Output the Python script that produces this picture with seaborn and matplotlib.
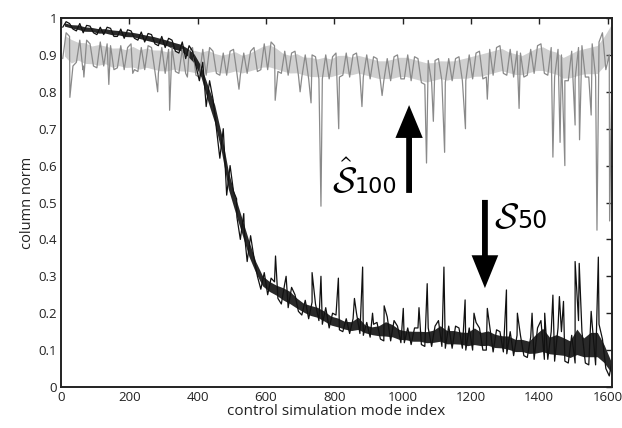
import numpy as np
import pandas as pd
import matplotlib
matplotlib.use("Agg")
import matplotlib.pyplot as plt
import seaborn as sns
from matplotlib.patches import FancyArrow

# ---------------- data ----------------
bin_start = list(range(0, 1620, 20))

s50_lo = [0.975, 0.97, 0.965, 0.96, 0.96, 0.955, 0.955, 0.95, 0.95, 0.945,
          0.945, 0.94, 0.935, 0.93, 0.925, 0.92, 0.91, 0.905, 0.89, 0.87,
          0.83, 0.76, 0.70, 0.62, 0.52, 0.46, 0.40, 0.34, 0.30, 0.265,
          0.25, 0.24, 0.225, 0.215, 0.205, 0.195, 0.185, 0.18, 0.17, 0.16,
          0.155, 0.15, 0.145, 0.145, 0.14, 0.135, 0.13, 0.125, 0.125, 0.12,
          0.12, 0.115, 0.115, 0.11, 0.11, 0.11, 0.105, 0.105, 0.105, 0.10,
          0.10, 0.10, 0.10, 0.095, 0.095, 0.09, 0.085, 0.085, 0.08, 0.075,
          0.075, 0.075, 0.07, 0.07, 0.065, 0.065, 0.065, 0.06, 0.06, 0.05,
          0.03]
s50_hi = [0.99, 0.985, 0.985, 0.98, 0.978, 0.975, 0.975, 0.972, 0.97, 0.968,
          0.965, 0.962, 0.958, 0.955, 0.95, 0.945, 0.94, 0.935, 0.925, 0.91,
          0.88, 0.83, 0.78, 0.70, 0.60, 0.53, 0.47, 0.41, 0.35, 0.31,
          0.295, 0.285, 0.28, 0.27, 0.25, 0.235, 0.23, 0.225, 0.215, 0.20,
          0.195, 0.185, 0.185, 0.20, 0.175, 0.17, 0.175, 0.19, 0.18, 0.165,
          0.16, 0.16, 0.16, 0.16, 0.165, 0.18, 0.165, 0.165, 0.16, 0.16,
          0.175, 0.16, 0.165, 0.155, 0.15, 0.15, 0.14, 0.14, 0.135, 0.16,
          0.18, 0.15, 0.16, 0.15, 0.14, 0.18, 0.15, 0.17, 0.17, 0.13,
          0.08]
s50_spike_idx = [479, 514, 537, 628, 659, 735, 761, 812, 859, 883, 912, 946,
                 1002, 1048, 1072, 1121, 1183, 1209, 1248, 1304, 1336, 1379,
                 1416, 1440, 1459, 1471, 1505, 1517, 1552, 1573]
s50_spike_val = [0.63, 0.51, 0.415, 0.355, 0.30, 0.31, 0.30, 0.295, 0.24, 0.325,
                 0.20, 0.22, 0.213, 0.215, 0.28, 0.325, 0.236, 0.20, 0.213,
                 0.263, 0.20, 0.20, 0.20, 0.249, 0.245, 0.232, 0.34, 0.335,
                 0.205, 0.352]

s100_lo = [0.89, 0.87, 0.88, 0.87, 0.87, 0.865, 0.87, 0.86, 0.865, 0.86,
           0.86, 0.855, 0.86, 0.855, 0.85, 0.85, 0.855, 0.85, 0.85, 0.845,
           0.84, 0.845, 0.85, 0.845, 0.845, 0.85, 0.845, 0.85, 0.855, 0.86,
           0.86, 0.855, 0.85, 0.845, 0.845, 0.84, 0.835, 0.835, 0.835, 0.835,
           0.84, 0.845, 0.84, 0.845, 0.84, 0.835, 0.83, 0.83, 0.83, 0.835,
           0.835, 0.83, 0.825, 0.82, 0.825, 0.83, 0.825, 0.83, 0.83, 0.83,
           0.835, 0.835, 0.84, 0.845, 0.85, 0.845, 0.84, 0.84, 0.845, 0.85,
           0.85, 0.845, 0.84, 0.83, 0.83, 0.835, 0.84, 0.84, 0.84, 0.86,
           0.90]
s100_hi = [0.96, 0.95, 0.94, 0.94, 0.93, 0.935, 0.93, 0.925, 0.925, 0.92,
           0.93, 0.92, 0.925, 0.92, 0.92, 0.915, 0.92, 0.915, 0.91, 0.92,
           0.915, 0.92, 0.91, 0.905, 0.91, 0.915, 0.905, 0.91, 0.92, 0.93,
           0.935, 0.925, 0.91, 0.905, 0.91, 0.90, 0.90, 0.895, 0.90, 0.895,
           0.905, 0.905, 0.90, 0.905, 0.90, 0.895, 0.89, 0.89, 0.895, 0.90,
           0.90, 0.895, 0.89, 0.885, 0.885, 0.89, 0.89, 0.89, 0.895, 0.90,
           0.905, 0.91, 0.915, 0.92, 0.925, 0.915, 0.91, 0.905, 0.915, 0.925,
           0.93, 0.92, 0.915, 0.90, 0.91, 0.92, 0.925, 0.93, 0.935, 0.96,
           0.99]
s100_dip_idx = [26, 64, 67, 140, 210, 283, 318, 370, 521, 627, 700, 732, 761,
                813, 881, 940, 1070, 1090, 1123, 1184, 1248, 1341, 1440, 1461,
                1475, 1505, 1518, 1552, 1569, 1606]
s100_dip_val = [0.785, 0.86, 0.84, 0.82, 0.85, 0.80, 0.75, 0.84, 0.807, 0.777,
                0.80, 0.77, 0.49, 0.70, 0.76, 0.79, 0.607, 0.72, 0.636, 0.70,
                0.78, 0.755, 0.623, 0.663, 0.60, 0.71, 0.67, 0.737, 0.425, 0.45]

x_ticks = [0, 200, 400, 600, 800, 1000, 1200, 1400, 1600]
y_ticks = [0, 0.1, 0.2, 0.3, 0.4, 0.5, 0.6, 0.7, 0.8, 0.9, 1]

COLORS = {"S100": "#8a8a8a", "S50": "#111111"}
CORE = {"S100": (0.1, 0.4), "S50": (0.2, 0.9)}   # (trim fraction, alpha)


def build_line(name, lo, hi, sidx, sval):
    xs, ys = [], []
    for k, (b, l, h) in enumerate(zip(bin_start, lo, hi)):
        xs += [b + 5, b + 15]
        ys += [l, h] if k % 3 != 1 else [h, l]
    xs += list(sidx)
    ys += list(sval)
    return pd.DataFrame({"index": xs, "norm": ys, "series": name})


def build_core(name, lo, hi, trim):
    xs = [b + 10 for b in bin_start]
    lo_c = [l + trim * (h - l) for l, h in zip(lo, hi)]
    hi_c = [h - trim * (h - l) for l, h in zip(lo, hi)]
    return pd.DataFrame({"index": xs + xs, "norm": lo_c + hi_c, "series": name})


lines = pd.concat([
    build_line("S100", s100_lo, s100_hi, s100_dip_idx, s100_dip_val),
    build_line("S50", s50_lo, s50_hi, s50_spike_idx, s50_spike_val),
], ignore_index=True)
cores = pd.concat([build_core("S100", s100_lo, s100_hi, CORE["S100"][0]),
                   build_core("S50", s50_lo, s50_hi, CORE["S50"][0])],
                  ignore_index=True)

# ---------------- plot ----------------
sns.set_theme(style="white")
plt.rcParams["font.family"] = ["Open Sans", "DejaVu Sans"]
plt.rcParams["mathtext.fontset"] = "cm"

fig = plt.figure(figsize=(6.22, 4.28), dpi=100)
ax = fig.add_axes([61 / 622, 1 - 387 / 428, (612 - 61) / 622, (387 - 18) / 428])

for name in ["S100", "S50"]:
    sns.lineplot(data=cores[cores.series == name], x="index", y="norm",
                 estimator="mean", errorbar=("pi", 100), color=COLORS[name],
                 linewidth=0, err_kws={"alpha": CORE[name][1], "linewidth": 0},
                 legend=False, ax=ax)
    sns.lineplot(data=lines[lines.series == name], x="index", y="norm",
                 estimator=None, sort=True, color=COLORS[name],
                 linewidth=0.9, legend=False, ax=ax)

ax.set_xlim(0, 1613)
ax.set_ylim(0, 1)
ax.set_xticks(x_ticks)
ax.set_yticks(y_ticks)
ax.set_yticklabels([f"{v:g}" for v in y_ticks])
ax.tick_params(direction="in", length=4, width=1.0, top=True, right=True,
               labelsize=9.5, colors="#222222", pad=3)
for s in ax.spines.values():
    s.set_linewidth(1.4)
    s.set_color("#222222")
ax.set_xlabel("control simulation mode index", fontsize=11, labelpad=0, color="#222222")
ax.set_ylabel("column norm", fontsize=10.5, labelpad=2, color="#222222")

# arrows
ax.add_patch(FancyArrow(1019, 0.526, 0, 0.238, width=17, head_width=80,
                        head_length=0.089, length_includes_head=True,
                        color="black", lw=0))
ax.add_patch(FancyArrow(1241, 0.507, 0, -0.239, width=17, head_width=78,
                        head_length=0.089, length_includes_head=True,
                        color="black", lw=0))

# labels: calligraphic S plus sans-serif subscript
ax.text(794, 0.526, r"$\hat{\mathcal{S}}$", fontsize=26,
        ha="left", va="baseline", color="black")
ax.text(858, 0.526, "100", fontsize=16, family="DejaVu Sans",
        ha="left", va="baseline", color="black")
ax.text(1267, 0.431, r"$\mathcal{S}$", fontsize=26,
        ha="left", va="baseline", color="black")
ax.text(1334, 0.431, "50", fontsize=17, family="DejaVu Sans",
        ha="left", va="baseline", color="black")

fig.savefig("out.png", dpi=100)
